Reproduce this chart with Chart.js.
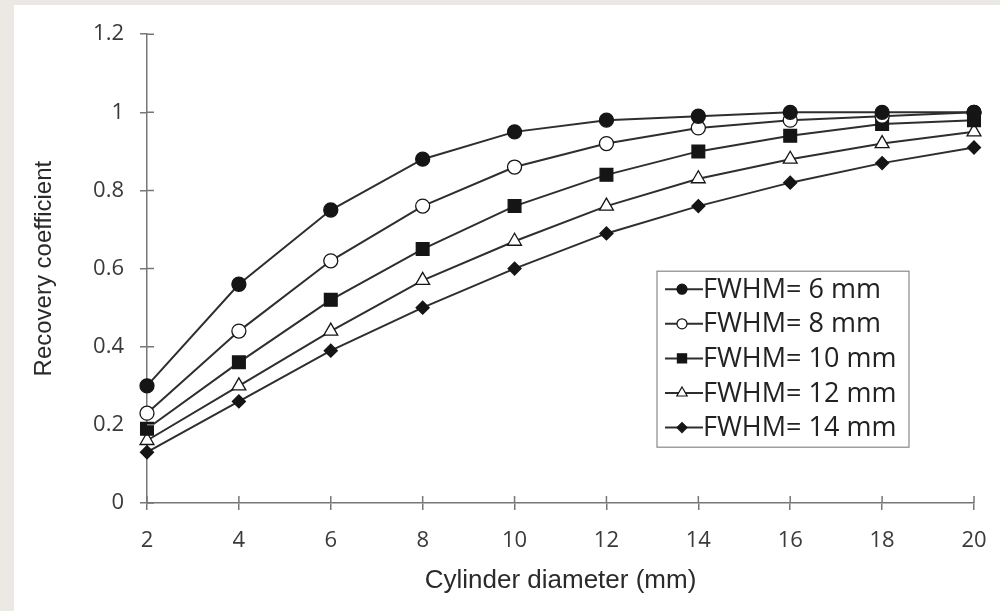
<!DOCTYPE html>
<html>
<head>
<meta charset="utf-8">
<script src="https://cdn.jsdelivr.net/npm/chart.js@4"></script>
<style>
    html, body { margin: 0; padding: 0; background: #ece9e4; }
    body { width: 1000px; height: 611px; position: relative; overflow: hidden; }
    #wrap { position: absolute; left: 14px; top: 5px; width: 986px; height: 606px; background: #fff; }
</style>
</head>
<body>
<div id="wrap"><canvas id="rc-chart"></canvas></div>
<script>
// Recovery coefficient vs cylinder diameter
const diameters = [2, 4, 6, 8, 10, 12, 14, 16, 18, 20];
const fwhm6  = [0.30, 0.56, 0.75, 0.88, 0.95, 0.98, 0.99, 1.00, 1.00, 1.00];
const fwhm8  = [0.23, 0.44, 0.62, 0.76, 0.86, 0.92, 0.96, 0.98, 0.99, 1.00];
const fwhm10 = [0.19, 0.36, 0.52, 0.65, 0.76, 0.84, 0.90, 0.94, 0.97, 0.98];
const fwhm12 = [0.16, 0.30, 0.44, 0.57, 0.67, 0.76, 0.83, 0.88, 0.92, 0.95];
const fwhm14 = [0.13, 0.26, 0.39, 0.50, 0.60, 0.69, 0.76, 0.82, 0.87, 0.91];
const seriesLabels = ['FWHM= 6 mm', 'FWHM= 8 mm', 'FWHM= 10 mm', 'FWHM= 12 mm', 'FWHM= 14 mm'];
const yTickLabels = ['0', '0.2', '0.4', '0.6', '0.8', '1', '1.2'];

const INK = '#151515';
const LINE = '#2e2e2e';
const AXIS = '#777';

// marker look per series: [pointStyle, fill, chart radius, legend radius]
const markers = [
    ['circle', INK, 7, 5],
    ['circle', '#fff', 7, 5],
    ['rect', INK, 9, 6.5],
    ['triangle', '#fff', 8, 6],
    ['rectRot', INK, 6.5, 5]
];

const series = [fwhm6, fwhm8, fwhm10, fwhm12, fwhm14];

const datasets = series.map((vals, i) => ({
    label: seriesLabels[i],
    data: vals.map((v, j) => ({ x: diameters[j], y: v })),
    borderColor: LINE,
    borderWidth: 2,
    pointStyle: markers[i][0],
    pointBackgroundColor: markers[i][1],
    pointBorderColor: INK,
    pointBorderWidth: 1.3,
    pointRadius: markers[i][2],
    pointHoverRadius: markers[i][2],
    clip: false,
    tension: 0
}));

// ticks that cross the axis line (inner half)
const innerTicks = {
    id: 'innerTicks',
    afterDraw(chart) {
        const { ctx, chartArea } = chart;
        const xs = chart.scales.x, ys = chart.scales.y;
        ctx.save();
        ctx.strokeStyle = AXIS;
        ctx.lineWidth = 1.5;
        ctx.beginPath();
        xs.ticks.forEach((t, i) => {
            const px = xs.getPixelForTick(i);
            ctx.moveTo(px, chartArea.bottom);
            ctx.lineTo(px, chartArea.bottom - 7);
        });
        ys.ticks.forEach((t, i) => {
            const py = ys.getPixelForTick(i);
            ctx.moveTo(chartArea.left, py);
            ctx.lineTo(chartArea.left + 7, py);
        });
        ctx.stroke();
        ctx.restore();
    }
};

// boxed legend inside the plot
const boxLegend = {
    id: 'boxLegend',
    afterDraw(chart) {
        const { ctx, chartArea } = chart;
        const bx = chartArea.right - 317, by = chartArea.top + 237;
        const bw = 252, bh = 176;
        ctx.save();
        ctx.fillStyle = '#fff';
        ctx.fillRect(bx, by, bw, bh);
        ctx.strokeStyle = '#888';
        ctx.lineWidth = 1.2;
        ctx.strokeRect(bx, by, bw, bh);
        ctx.font = '27px "Open Sans"';
        ctx.textBaseline = 'middle';
        seriesLabels.forEach((lab, i) => {
            const cy = by + 18 + i * 34.6;
            ctx.strokeStyle = LINE;
            ctx.lineWidth = 2;
            ctx.beginPath();
            ctx.moveTo(bx + 8, cy);
            ctx.lineTo(bx + 46, cy);
            ctx.stroke();
            ctx.fillStyle = markers[i][1];
            ctx.strokeStyle = INK;
            ctx.lineWidth = 1.2;
            Chart.helpers.drawPoint(ctx, { pointStyle: markers[i][0], radius: markers[i][3], rotation: 0, borderWidth: 1.2 }, bx + 25, cy);
            ctx.fillStyle = '#222';
            ctx.fillText(lab, bx + 46, cy + 1);
        });
        ctx.restore();
    }
};

new Chart(document.getElementById('rc-chart'), {
    type: 'line',
    data: { datasets },
    options: {
        responsive: true,
        maintainAspectRatio: false,
        animation: false,
        layout: { padding: { top: 28, right: 26, left: 0, bottom: 0 } },
        plugins: { legend: { display: false }, tooltip: { enabled: false } },
        scales: {
            x: {
                type: 'linear',
                min: 2,
                max: 20,
                afterFit: s => { s.height = 108; s.paddingLeft = 0; s.paddingRight = 0; },
                ticks: {
                    stepSize: 2,
                    color: '#3a3a3a',
                    padding: 18,
                    font: { family: 'Open Sans', size: 22 }
                },
                grid: { drawOnChartArea: false, tickLength: 7, color: AXIS, lineWidth: 1.5 },
                border: { color: AXIS, width: 1.5 },
                title: {
                    display: true,
                    text: 'Cylinder diameter (mm)',
                    color: '#2a2a2a',
                    font: { family: 'Liberation Sans', size: 26 },
                    padding: { top: 0, bottom: 15 }
                }
            },
            y: {
                min: 0,
                max: 1.2,
                afterFit: s => { s.width = 133; },
                ticks: {
                    stepSize: 0.2,
                    color: '#3a3a3a',
                    padding: 16,
                    font: { family: 'Open Sans', size: 22 },
                    callback: (v, i) => yTickLabels[i]
                },
                grid: { drawOnChartArea: false, tickLength: 7, color: AXIS, lineWidth: 1.5 },
                border: { color: AXIS, width: 1.5 },
                title: {
                    display: true,
                    text: 'Recovery coefficient',
                    color: '#2a2a2a',
                    font: { family: 'Liberation Sans', size: 24 },
                    padding: { top: 16, bottom: 0 }
                }
            }
        }
    },
    plugins: [innerTicks, boxLegend]
});
</script>
</body>
</html>
